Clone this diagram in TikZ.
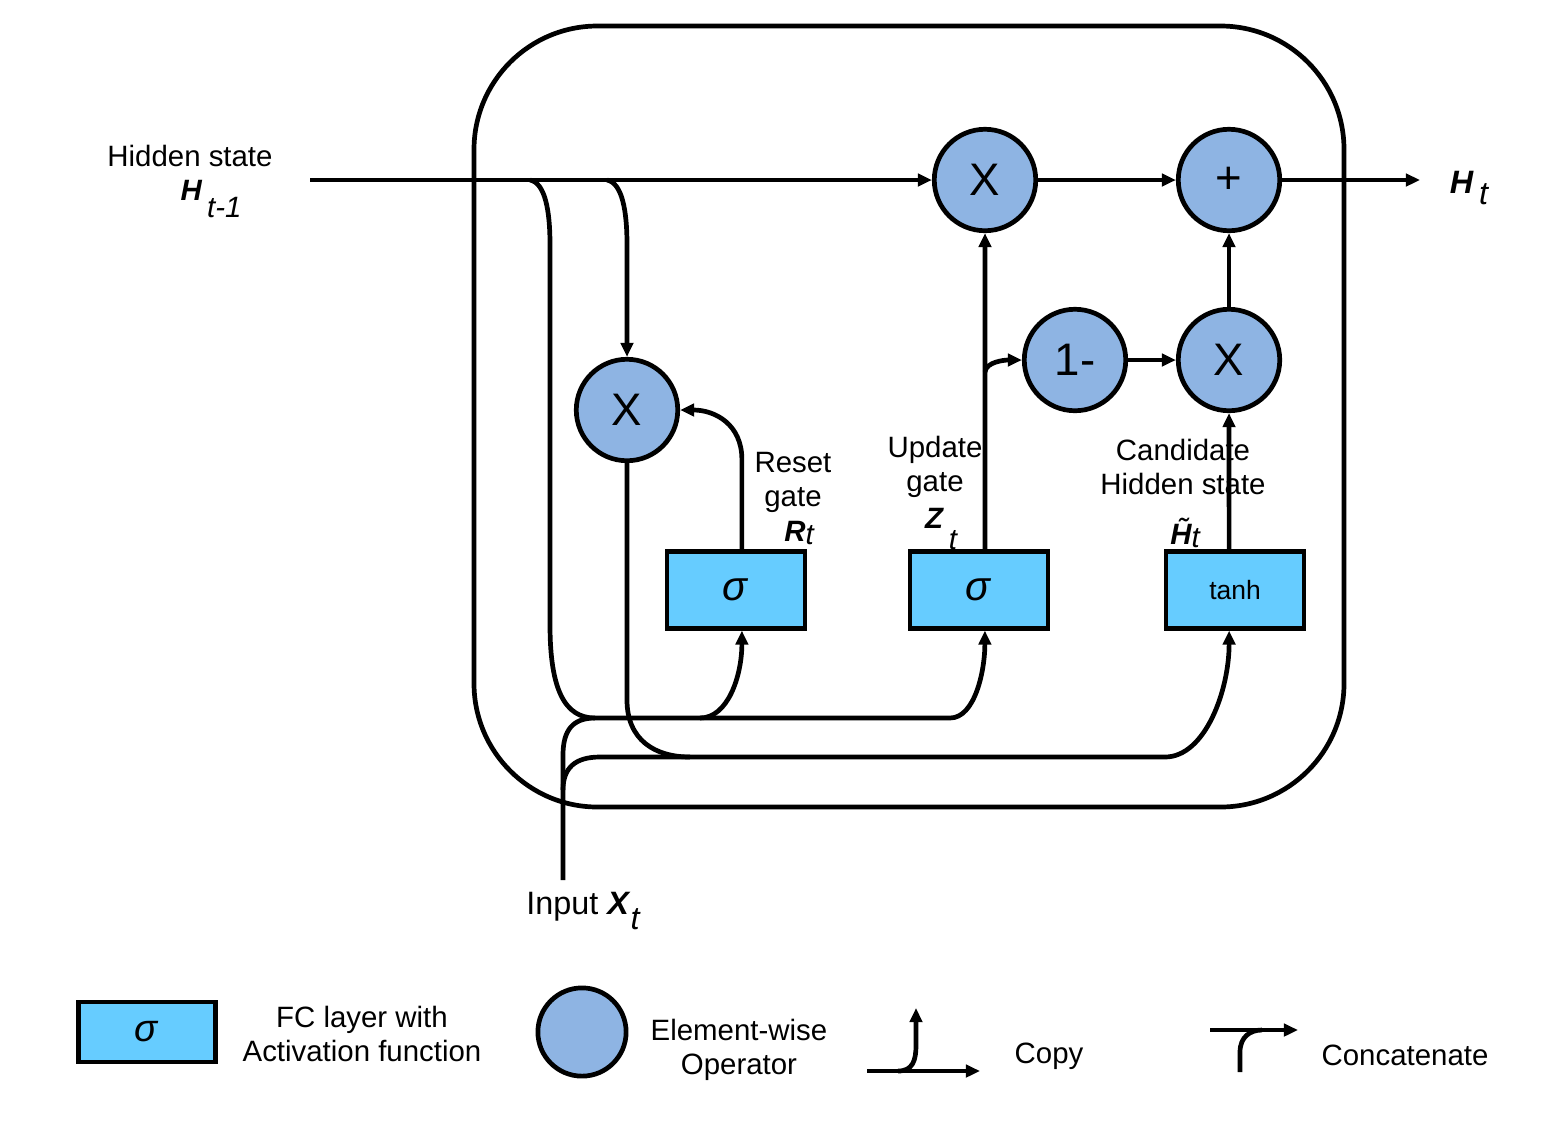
\documentclass[tikz,border=0pt]{standalone}
\usepackage{fontspec}
\setmainfont{Liberation Sans}
\usetikzlibrary{arrows.meta}
\definecolor{fcblue}{HTML}{66CCFF}
\definecolor{opblue}{HTML}{8EB4E3}
\newcommand{\bsym}[1]{\textbf{\textit{#1}}}
\begin{document}
\begin{tikzpicture}[x=0.34pt,y=-0.34pt,line width=1.6pt,
  >={Triangle[length=4.8pt,width=4.2pt]},
  op/.style={circle,draw,fill=opblue,line width=1.6pt,minimum size=34.5pt,inner sep=0pt,font=\fontsize{15.5}{18}\selectfont},
  fc/.style={rectangle,draw,fill=fcblue,line width=1.6pt,minimum width=47pt,minimum height=26pt,inner sep=0pt,font=\fontsize{14}{16}\selectfont},
  lbl/.style={align=center,inner sep=0pt,font=\fontsize{10}{11.6}\selectfont}]
\useasboundingbox (0,0) rectangle (1560,1124);
% cell
\draw[rounded corners=42pt] (474,26) rectangle (1344,807);
% operators and layers
\node[op] (mr) at (627,410) {X};
\node[op] (mz) at (985,180) {X};
\node[op] (add) at (1229,180) {+};
\node[op] (onem) at (1075,360) {1-};
\node[op] (mh) at (1229,360) {X};
\node[fc] (rg) at (736,590) {\textit{σ}};
\node[fc] (zg) at (979,590) {\textit{σ}};
\node[fc,font=\fontsize{9}{11}\selectfont] (hg) at (1235,590) {tanh};
\coordinate (hin) at (310,180);
\coordinate (hout) at (1420,180);
\coordinate (xin) at (563,880);
\coordinate (sa) at (530,180);
\coordinate (sb) at (607,180);
\coordinate (zs) at (985,372);
% hidden state path
\draw[->] (hin) -- (mz);
\draw[->] (mz) -- (add);
\draw[->] (add) -- (hout);
\draw[->] (onem) -- (mh);
\draw[->] (mh) -- (add);
\draw[->] ([xshift=-2pt]hg.north) -- (mh.south);
\draw[->] ([xshift=2pt]zg.north) -- (mz.south);
\draw[->] (zs) .. controls +(1,-10) and +(-18,0) .. (onem.west);
\draw[->] ([xshift=2pt]rg.north) -- ++(0,-90) .. controls +(0,-35) and +(35,0) .. (mr.east);
\draw[->] (sb) .. controls +(15,3) and +(0,-35) .. (627,245) -- (mr.north);
\draw (sa) .. controls +(15,3) and +(0,-35) .. (550,245) -- (550,625) .. controls +(0,65) and +(-30,0) .. (595,718);
% input paths
\draw[->] (xin) -- (563,755) .. controls +(0,-25) and +(-22,0) .. (595,718) -- (950,718) .. controls +(25,0) and +(0,40) .. ([xshift=2pt]zg.south);
\draw[->] (700,718) .. controls +(28,0) and +(0,45) .. ([xshift=2pt]rg.south);
\draw[->] (563,790) .. controls +(0,-22) and +(-25,0) .. (600,757) -- (1165,757) .. controls +(40,0) and +(0,60) .. ([xshift=-2pt]hg.south);
\draw (mr.south) -- (627,700) .. controls +(0,40) and +(-35,0) .. (690,757);
% labels
\node[lbl] (hlbl) at (190,156) {Hidden state};
\node[lbl] (hsym) at (211,199) {\bsym{H}\,\raisebox{-6pt}{\itshape t-1}};
\node[lbl,font=\fontsize{11}{13}\selectfont] (osym) at (1469,188) {\bsym{H}\,\raisebox{-4pt}{\itshape t}};
\node[lbl] (rlbl) at (793,482) {Reset\\gate};
\node[lbl] (rsym) at (799,533) {\bsym{R}\raisebox{-1pt}{\itshape t}};
\node[lbl] (zlbl) at (935,467) {Update\\gate};
\node[lbl] (zsym) at (941,529) {\bsym{Z}\,\raisebox{-7pt}{\itshape t}};
\node[lbl] (clbl) at (1183,467) {Candidate\\Hidden state};
\node[lbl] (csym) at (1185,533) {{\bfseries\itshape\~H}\raisebox{-1pt}{\itshape t}};
\node[lbl,font=\fontsize{11}{13}\selectfont] (xlbl) at (583,911) {Input \bsym{X}\raisebox{-5pt}{\itshape t}};
% legend
\node[fc,minimum width=46.6pt,minimum height=20.4pt,font=\fontsize{13}{15}\selectfont] (lgfc) at (147,1032) {\textit{σ}};
\node[lbl] (lgfct) at (362,1034) {FC layer with\\Activation function};
\node[op,minimum size=30pt] (lgop) at (582,1032) {};
\node[lbl] (lgopt) at (739,1050) {Element-wise\\Operator};
\coordinate (cpa) at (867,1071);
\coordinate (cpb) at (980,1071);
\coordinate (cpc) at (916,1008);
\draw[->] (cpa) -- (cpb);
\draw[->] (898,1071) .. controls +(15,0) and +(0,15) .. (916,1045) -- (cpc);
\node[lbl] (lgcp) at (1049,1056) {Copy};
\coordinate (cca) at (1210,1030);
\coordinate (ccb) at (1298,1030);
\coordinate (ccc) at (1240,1072);
\draw[->] (cca) -- (ccb);
\draw (ccc) -- (1240,1052) .. controls +(0,-15) and +(-12,0) .. (1262,1030);
\node[lbl] (lgcc) at (1405,1055) {Concatenate};
\end{tikzpicture}
\end{document}
